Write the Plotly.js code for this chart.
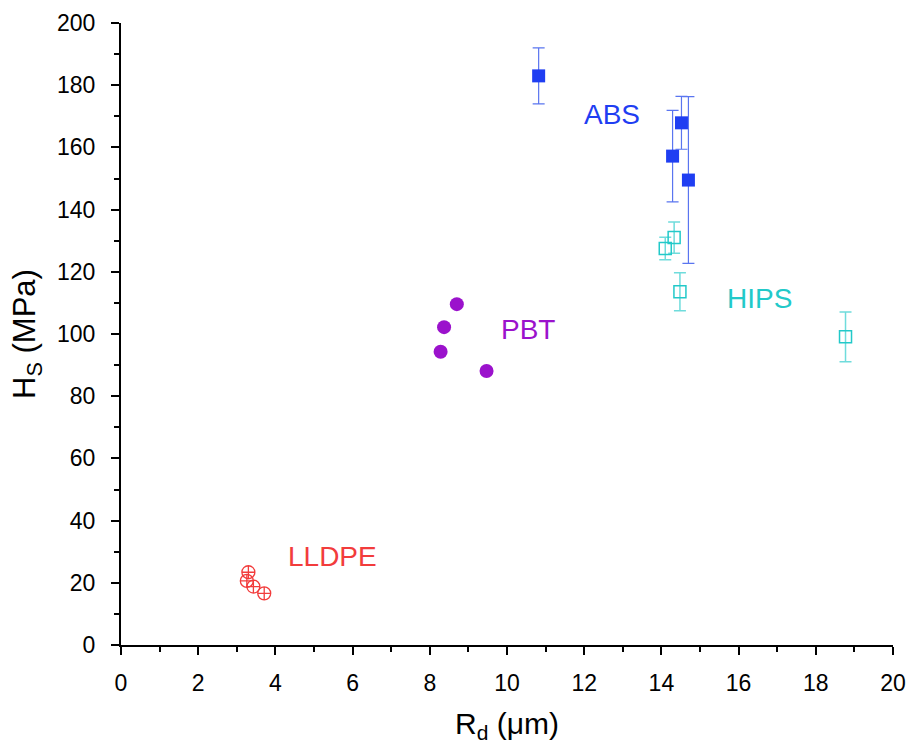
<!DOCTYPE html>
<html>
<head>
<meta charset="utf-8">
<script src="https://cdn.plot.ly/plotly-3.0.1.min.js"></script>
<style>html,body{margin:0;padding:0;background:#fff;}#chart{width:914px;height:754px;}</style>
</head>
<body>
<div id="chart"></div>
<script>
// ABS
const absX = [10.82, 14.29, 14.52, 14.70];
const absY = [183.0, 157.2, 167.9, 149.5];
const absErrPlus = [9.0, 14.7, 8.5, 26.8];
const absErrMinus = [9.0, 14.7, 8.5, 26.8];
// HIPS
const hipsX = [14.10, 14.33, 14.48, 18.77];
const hipsY = [127.5, 131.0, 113.6, 99.1];
const hipsErr = [3.6, 5.0, 6.1, 8.0];
// PBT
const pbtX = [8.70, 8.37, 8.28, 9.47];
const pbtY = [109.6, 102.2, 94.3, 88.1];
// LLDPE
const llX = [3.30, 3.26, 3.43, 3.71];
const llY = [23.4, 20.6, 18.8, 16.6];

const labels = [
  {text: 'ABS', x: 12.72, y: 170.7, color: '#1f3ef2'},
  {text: 'HIPS', x: 16.55, y: 111.3, color: '#22c9c9'},
  {text: 'PBT', x: 10.54, y: 101.6, color: '#9b12cc'},
  {text: 'LLDPE', x: 5.49, y: 28.6, color: '#f23c3c'}
];

const traces = [
  {x: hipsX, y: hipsY, type: 'scatter', mode: 'markers',
   marker: {symbol: 'square-open', size: 12, color: '#22c9c9', line: {width: 1.5, color: '#22c9c9'}},
   error_y: {type: 'data', array: hipsErr, visible: true, color: '#6fdcdc', thickness: 1.5, width: 6}},
  {x: absX, y: absY, type: 'scatter', mode: 'markers',
   marker: {symbol: 'square', size: 13, color: '#1f3ef2'},
   error_y: {type: 'data', array: absErrPlus, arrayminus: absErrMinus, visible: true, color: '#5a75f0', thickness: 1.2, width: 6}},
  {x: pbtX, y: pbtY, type: 'scatter', mode: 'markers',
   marker: {symbol: 'circle', size: 14, color: '#9b12cc'}},
  {x: llX, y: llY, type: 'scatter', mode: 'markers',
   marker: {symbol: 'circle-cross-open', size: 13, color: '#f23c3c', line: {width: 1.3, color: '#f23c3c'}}}
];

const layout = {
  width: 914, height: 754,
  margin: {l: 121, r: 21, t: 23, b: 109},
  paper_bgcolor: '#fff', plot_bgcolor: '#fff',
  showlegend: false,
  font: {family: 'Liberation Sans, Arial, sans-serif', color: '#000'},
  xaxis: {
    range: [0, 20], tickmode: 'array', tickvals: [0,2,4,6,8,10,12,14,16,18,20],
    ticks: 'outside', ticklen: 8, tickwidth: 2, tickcolor: '#000',
    minor: {dtick: 1, ticks: 'outside', ticklen: 5, tickwidth: 2, tickcolor: '#000', showgrid: false},
    showline: true, linecolor: '#000', linewidth: 2, showgrid: false, zeroline: false,
    tickfont: {size: 23}, ticklabelstandoff: 8,
    title: {text: 'R<sub>d</sub> (μm)', font: {size: 30}, standoff: 18}
  },
  yaxis: {
    range: [0, 200], tickmode: 'array', tickvals: [0,20,40,60,80,100,120,140,160,180,200],
    ticks: 'outside', ticklen: 8, tickwidth: 2, tickcolor: '#000',
    minor: {dtick: 10, ticks: 'outside', ticklen: 5, tickwidth: 2, tickcolor: '#000', showgrid: false},
    showline: true, linecolor: '#000', linewidth: 2, showgrid: false, zeroline: false,
    tickfont: {size: 23}, ticklabelstandoff: 11,
    title: {text: 'H<sub>S</sub> (MPa)', font: {size: 31}, standoff: 12}
  },
  annotations: labels.map(l => ({x: l.x, y: l.y, xref: 'x', yref: 'y', text: l.text, showarrow: false,
    font: {size: 28, color: l.color}, xanchor: 'center', yanchor: 'middle'}))
};

Plotly.newPlot('chart', traces, layout, {displayModeBar: false, staticPlot: true});
</script>
</body>
</html>
